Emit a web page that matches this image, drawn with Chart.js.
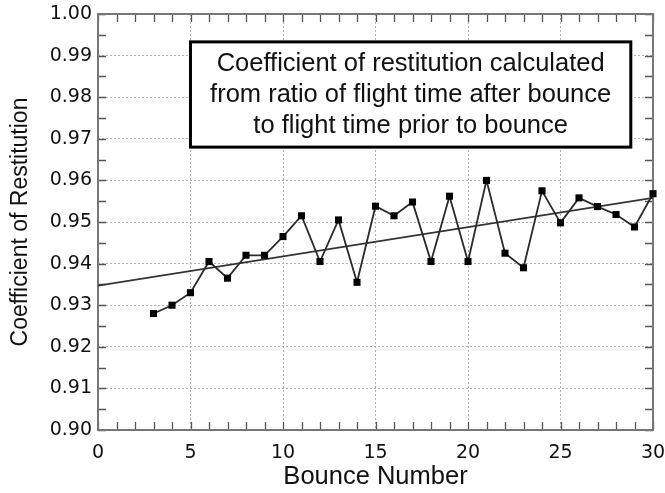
<!DOCTYPE html>
<html>
<head>
<meta charset="utf-8">
<script src="https://cdn.jsdelivr.net/npm/chart.js@4/dist/chart.umd.min.js"></script>
<style>
html,body{margin:0;padding:0;background:#fff;}
#wrap{width:665px;height:493px;position:relative;}
</style>
</head>
<body>
<div id="wrap"><canvas id="c" width="665" height="493"></canvas></div>
<script>
// ---- data ----
const bounceNumbers = [3,4,5,6,7,8,9,10,11,12,13,14,15,16,17,18,19,20,21,22,23,24,25,26,27,28,29,30];
const restitution = [0.928,0.930,0.933,0.9405,0.9365,0.942,0.942,0.9465,0.9515,0.9405,0.9505,0.9355,0.9538,0.9515,0.9548,0.9405,0.9562,0.9405,0.960,0.9425,0.939,0.9575,0.9498,0.9558,0.9537,0.9518,0.9488,0.9568];
const fitX = [0, 30];
const fitY = [0.9347, 0.9558];
const xTickValues = [0,5,10,15,20,25,30];
const yTickValues = [0.90,0.91,0.92,0.93,0.94,0.95,0.96,0.97,0.98,0.99,1.00];
const xMinorTickValues = [0,1,2,3,4,5,6,7,8,9,10,11,12,13,14,15,16,17,18,19,20,21,22,23,24,25,26,27,28,29,30];
const yMinorTickValues = [0.900,0.905,0.910,0.915,0.920,0.925,0.930,0.935,0.940,0.945,0.950,0.955,0.960,0.965,0.970,0.975,0.980,0.985,0.990,0.995,1.000];
const xTitle = 'Bounce Number';
const yTitle = 'Coefficient of Restitution';
const noteLines = ['Coefficient of restitution calculated','from ratio of flight time after bounce','to flight time prior to bounce'];

// ---- layout / style config ----
const noteBox = {xMin: 5.0, xMax: 28.8, yMax: 0.9933, yMin: 0.968, lineGap: 31, font: '25.5px "Liberation Sans", Arial, sans-serif'};

const framePlugin = {
  id: 'frameAndNote',
  beforeDatasetsDraw(chart) {
    const {ctx, chartArea: a, scales: {x, y}} = chart;
    ctx.save();
    // inward ticks on all four sides
    ctx.strokeStyle = '#555';
    ctx.lineWidth = 1.3;
    const tl = 8;
    ctx.beginPath();
    xMinorTickValues.forEach(v => {
      const px = Math.round(x.getPixelForValue(v)) + 0.5;
      ctx.moveTo(px, a.bottom); ctx.lineTo(px, a.bottom - tl);
      ctx.moveTo(px, a.top); ctx.lineTo(px, a.top + tl);
    });
    yMinorTickValues.forEach(v => {
      const py = Math.round(y.getPixelForValue(v)) + 0.5;
      ctx.moveTo(a.left, py); ctx.lineTo(a.left + tl, py);
      ctx.moveTo(a.right, py); ctx.lineTo(a.right - tl, py);
    });
    ctx.stroke();
    // frame
    ctx.strokeStyle = '#777';
    ctx.lineWidth = 2;
    ctx.strokeRect(a.left, a.top, a.right - a.left, a.bottom - a.top);
    ctx.restore();
  },
  afterDraw(chart) {
    const {ctx, scales: {x, y}} = chart;
    ctx.save();
    // note box
    const bx0 = x.getPixelForValue(noteBox.xMin), bx1 = x.getPixelForValue(noteBox.xMax);
    const by0 = y.getPixelForValue(noteBox.yMax), by1 = y.getPixelForValue(noteBox.yMin);
    ctx.fillStyle = '#fff';
    ctx.fillRect(bx0, by0, bx1 - bx0, by1 - by0);
    ctx.strokeStyle = '#000';
    ctx.lineWidth = 3;
    ctx.strokeRect(bx0, by0, bx1 - bx0, by1 - by0);
    ctx.fillStyle = '#111';
    ctx.font = noteBox.font;
    ctx.textAlign = 'center';
    ctx.textBaseline = 'middle';
    const cx = (bx0 + bx1) / 2, cy = (by0 + by1) / 2;
    noteLines.forEach((t, i) => {
      ctx.fillText(t, cx, cy + (i - (noteLines.length - 1) / 2) * noteBox.lineGap);
    });
    ctx.restore();
  }
};

new Chart(document.getElementById('c'), {
  type: 'scatter',
  data: {
    datasets: [
      {
        label: 'Measured',
        data: bounceNumbers.map((b, i) => ({x: b, y: restitution[i]})),
        showLine: true,
        clip: false,
        borderColor: '#2a2a2a',
        borderWidth: 1.8,
        pointStyle: 'rect',
        pointRadius: 5,
        pointBackgroundColor: '#000',
        pointBorderColor: '#000',
        pointBorderWidth: 0,
        tension: 0
      },
      {
        label: 'Fit',
        data: fitX.map((v, i) => ({x: v, y: fitY[i]})),
        showLine: true,
        borderColor: '#333',
        borderWidth: 1.6,
        pointRadius: 0,
        tension: 0
      }
    ]
  },
  options: {
    responsive: false,
    animation: false,
    devicePixelRatio: 1,
    layout: {padding: {top: 14, right: 12, left: 0, bottom: 0}},
    plugins: {legend: {display: false}, tooltip: {enabled: false}},
    scales: {
      x: {
        type: 'linear', min: 0, max: 30,
        afterBuildTicks: s => { s.ticks = xTickValues.map(v => ({value: v})); },
        afterFit: s => { s.height = 63; s.paddingLeft = 0; s.paddingRight = 0; },
        ticks: {font: {family: 'DejaVu Sans', size: 19}, color: '#111', padding: 12, maxRotation: 0, autoSkip: false},
        grid: {color: '#b0b0b0', lineWidth: 1, drawTicks: false},
        border: {display: false, dash: [2, 2]},
        title: {display: true, text: xTitle, font: {family: 'Liberation Sans', size: 25.5}, color: '#111', padding: {top: 0, bottom: 1}}
      },
      y: {
        type: 'linear', min: 0.9, max: 1.0,
        afterBuildTicks: s => { s.ticks = yTickValues.map(v => ({value: v})); },
        afterFit: s => { s.width = 98; s.paddingTop = 0; s.paddingBottom = 0; },
        ticks: {font: {family: 'DejaVu Sans', size: 19}, color: '#111', padding: 6, callback: v => Number(v).toFixed(2)},
        grid: {color: '#b0b0b0', lineWidth: 1, drawTicks: false},
        border: {display: false, dash: [2, 2]},
        title: {display: true, text: yTitle, font: {family: 'Liberation Sans', size: 23}, color: '#111', padding: {top: 7, bottom: 0}}
      }
    }
  },
  plugins: [framePlugin]
});
</script>
</body>
</html>
